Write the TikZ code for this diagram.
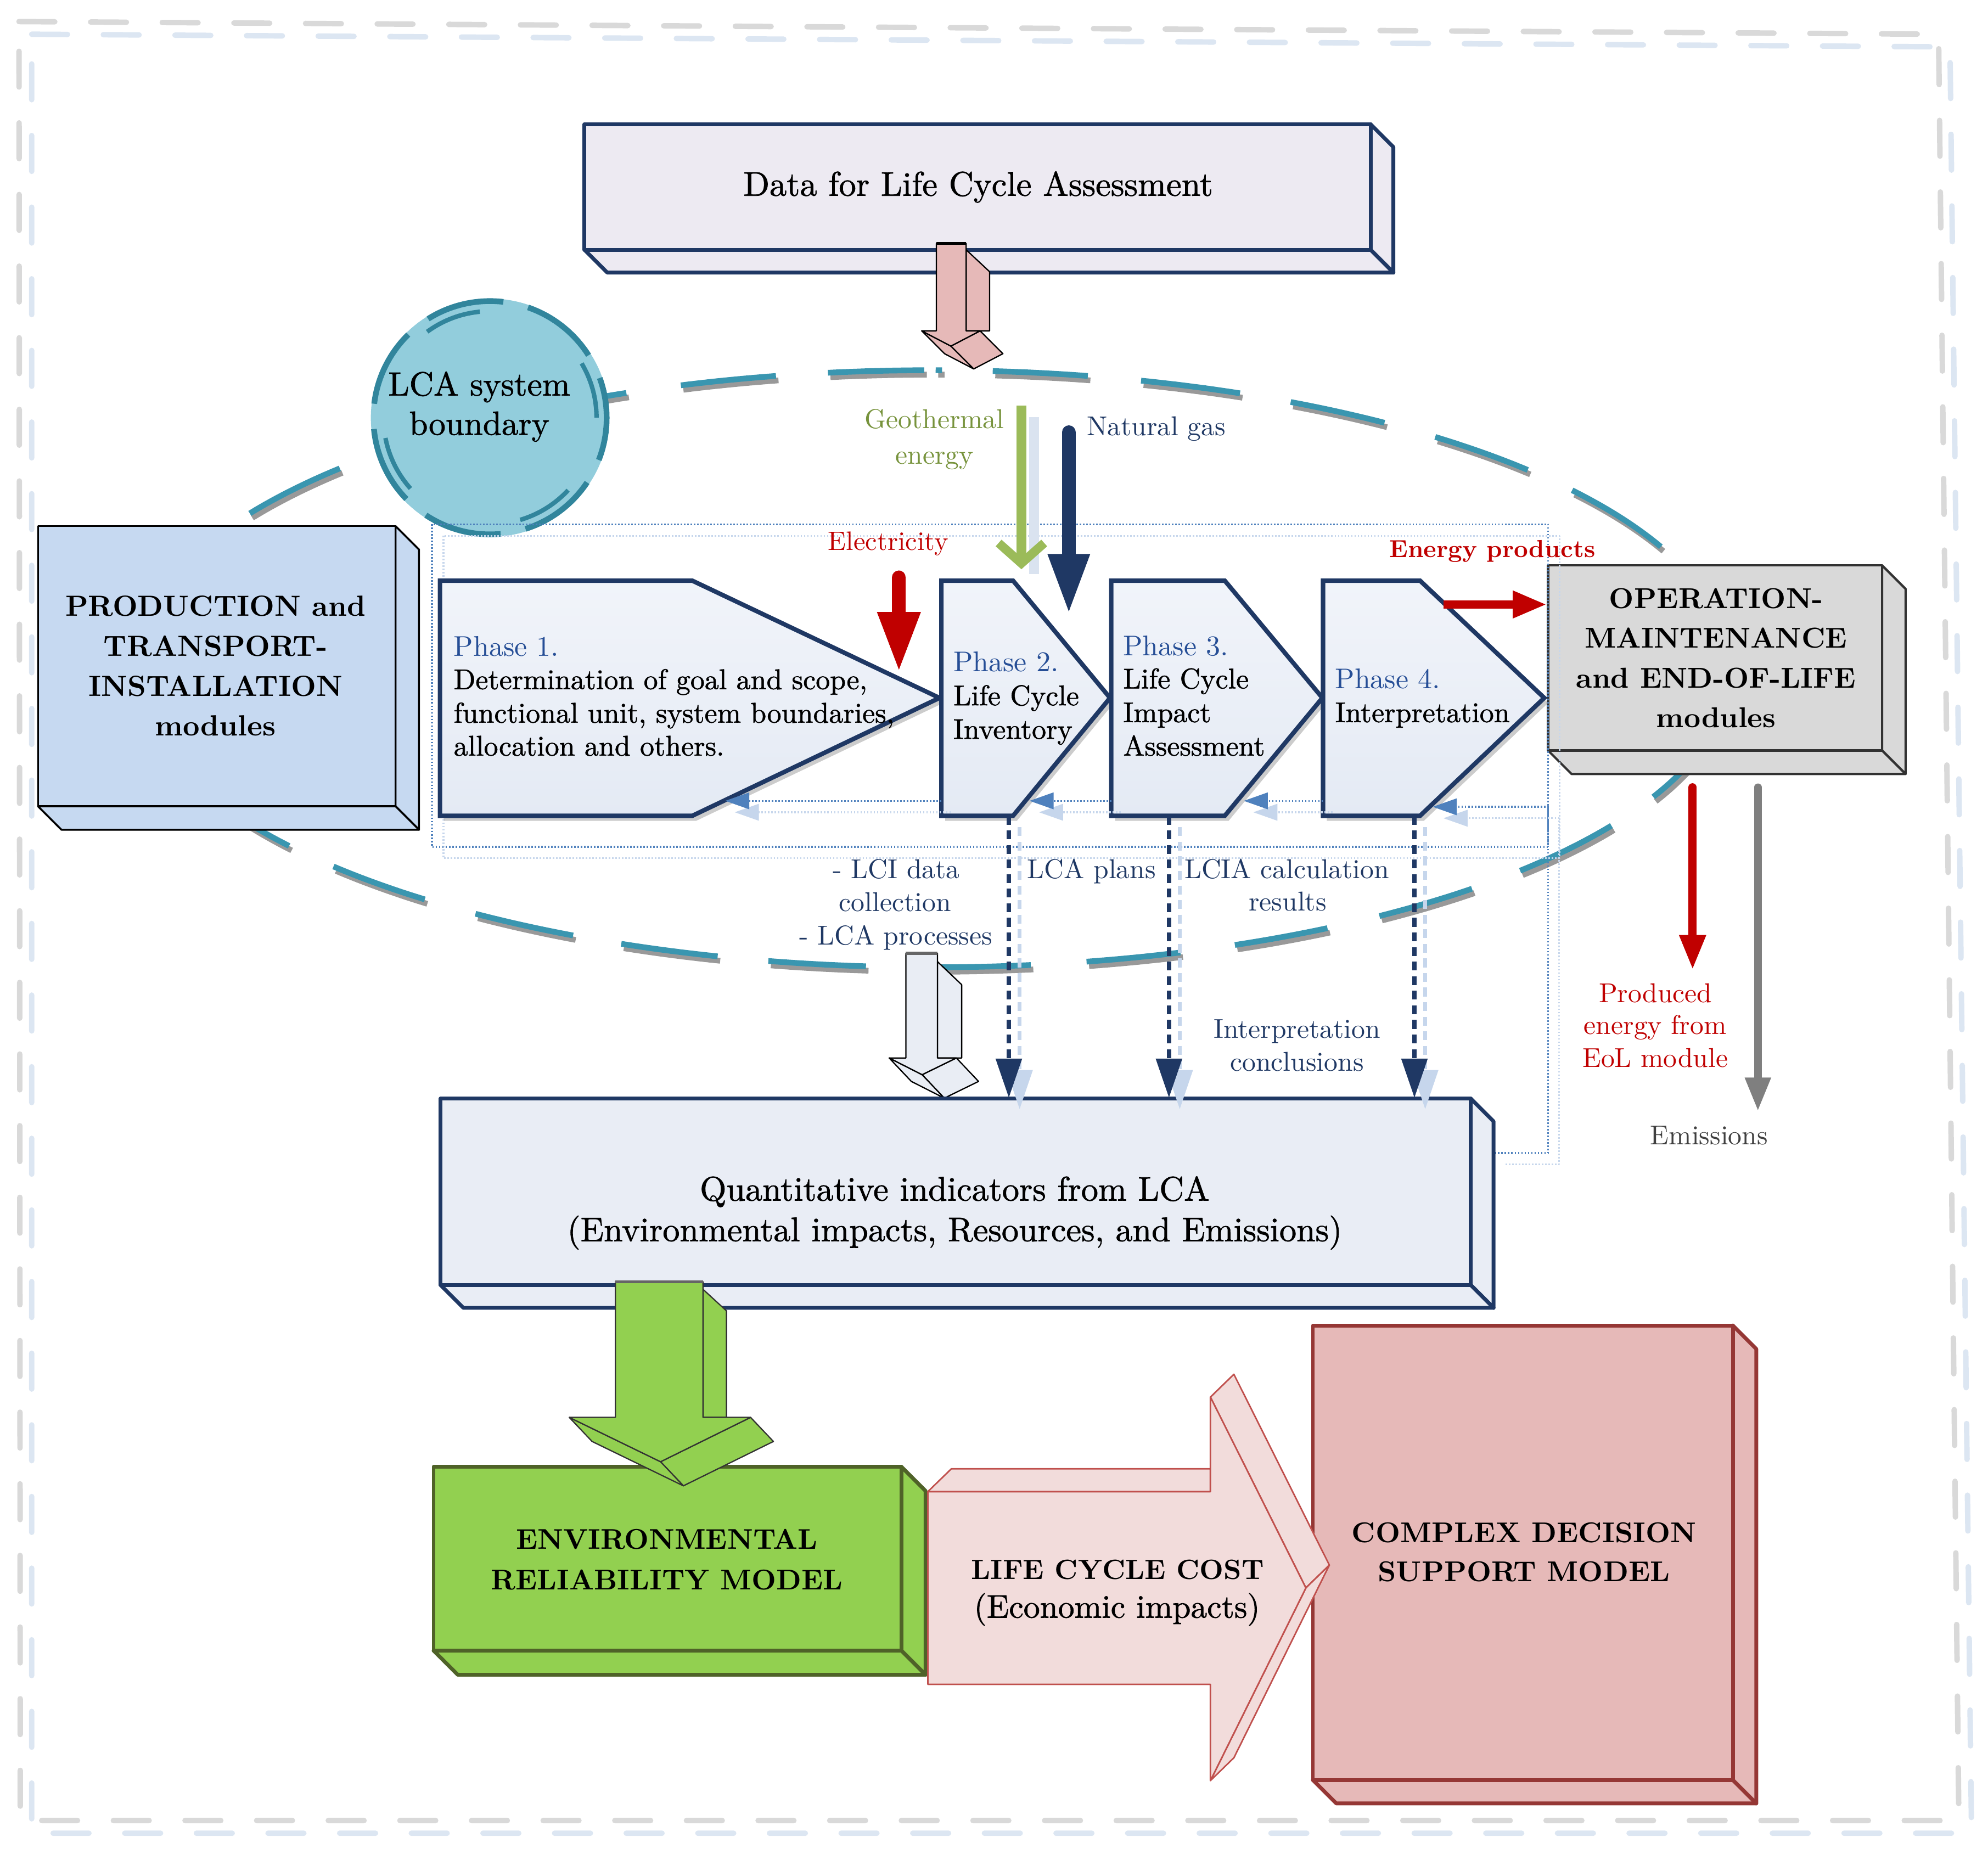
\documentclass[tikz,border=0pt]{standalone}
\usepackage{fontspec}
\setmainfont{lmroman10-regular.otf}[BoldFont=lmroman10-bold.otf,ItalicFont=lmroman10-italic.otf,BoldItalicFont=lmroman10-bolditalic.otf]
\newfontfamily\medfont{lmroman10-regular.otf}[FakeBold=1.2]
\usetikzlibrary{arrows.meta,shadows}
\definecolor{dblue}{RGB}{31,56,100}
\definecolor{phblue}{RGB}{38,78,150}
\definecolor{fbblue}{RGB}{79,129,189}
\definecolor{ltshadow}{RGB}{198,214,236}
\definecolor{lred}{RGB}{192,0,0}
\definecolor{geoarrow}{RGB}{155,187,89}
\definecolor{geotext}{RGB}{119,147,60}
\definecolor{teal1}{RGB}{58,150,176}
\definecolor{circfill}{RGB}{146,205,220}
\definecolor{circline}{RGB}{49,133,156}
\definecolor{datafill}{RGB}{237,234,242}
\definecolor{quantfill}{RGB}{233,237,245}
\definecolor{prodfill}{RGB}{198,217,241}
\definecolor{opfill}{RGB}{217,217,217}
\definecolor{opline}{RGB}{50,50,50}
\definecolor{envfill}{RGB}{146,208,80}
\definecolor{envline}{RGB}{79,98,40}
\definecolor{cxfill}{RGB}{230,185,184}
\definecolor{cxline}{RGB}{149,55,53}
\definecolor{lccfill}{RGB}{242,220,219}
\definecolor{lccline}{RGB}{192,80,77}
\definecolor{pinkfill}{RGB}{230,185,184}
\definecolor{whitefill}{RGB}{233,237,244}
\definecolor{phtop}{RGB}{241,244,250}
\definecolor{phbot}{RGB}{228,234,244}
\definecolor{framegray}{RGB}{217,217,217}
\definecolor{frameblue}{RGB}{220,230,242}
\definecolor{emgray}{RGB}{127,127,127}
\definecolor{emtext}{RGB}{64,64,64}
\definecolor{geoshadow}{RGB}{218,227,240}
\newcommand\fsz[2]{\fontsize{#1}{#2}\selectfont}
\newcommand\etop[2]{%
  \pgfmathsetmacro\aA{-acos((#1-735)/630)}%
  \pgfmathsetmacro\aB{-acos((#2-735)/630)}%
  \draw[elsh] plot[domain=\aA:\aB,samples=12,smooth] ({737+630*cos(\x)},{531+235.5*sin(\x)});%
  \draw[elln] plot[domain=\aA:\aB,samples=12,smooth] ({735+630*cos(\x)},{527.5+235.5*sin(\x)});}
\newcommand\ebot[2]{%
  \pgfmathsetmacro\aA{acos((#2-735)/630)}%
  \pgfmathsetmacro\aB{acos((#1-735)/630)}%
  \draw[elsh] plot[domain=\aA:\aB,samples=12,smooth] ({737+630*cos(\x)},{531+235.5*sin(\x)});%
  \draw[elln] plot[domain=\aA:\aB,samples=12,smooth] ({735+630*cos(\x)},{527.5+235.5*sin(\x)});}
\newcommand\cubefaces[6]{%
  \filldraw[#6] (#3,#2) -- (#3+#5,#2+#5) -- (#3+#5,#4+#5) -- (#3,#4) -- cycle;
  \filldraw[#6] (#1,#4) -- (#3,#4) -- (#3+#5,#4+#5) -- (#1+#5,#4+#5) -- cycle;}
\begin{document}
\begin{tikzpicture}[x=1pt,y=-1pt,line join=round,
  lbl/.style={inner sep=0pt,anchor=base},
  lbw/.style={inner sep=0pt,anchor=base west},
  phase/.style={draw=dblue,line width=3.5pt,line join=miter,top color=phtop,bottom color=phbot,
     drop shadow={shadow xshift=3pt,shadow yshift=-4pt,opacity=.4,fill=black!50}},
  elln/.style={draw=teal1,line width=4.5pt},
  elsh/.style={draw=black!40,line width=4.5pt},
  framel/.style={line width=4.3pt,line cap=round,dash pattern=on 28.2pt off 28.3pt},
  dotd/.style={draw=fbblue,line width=1.4pt,dash pattern=on 1.2pt off 1.4pt},
  dotl/.style={draw=ltshadow,line width=1.4pt,dash pattern=on 1.2pt off 1.4pt},
  fbtip/.style={-{Triangle[length=19pt,width=13pt]}},
  vdash/.style={draw=dblue,line width=3.6pt,dash pattern=on 7pt off 4.5pt,-{Triangle[length=31pt,width=20pt]}},
  vdashl/.style={draw=ltshadow,line width=3.2pt,dash pattern=on 7pt off 4.5pt,-{Triangle[length=31pt,width=20pt]}},
  boxnode/.style={rectangle,inner sep=0pt},
]
\useasboundingbox (0,0) rectangle (1568,1458.4);
\fill[white] (0,0) rectangle (1568,1458.4);

% outer frame
\draw[framel,draw=framegray] (15,17) -- (1529,27) -- (1545,1436) -- (16,1436) -- cycle;
\draw[framel,draw=frameblue] (25,27) -- (1538,37) -- (1555,1446) -- (25,1446) -- cycle;

% LCA system boundary ellipse (dashed)
\etop{197}{268}
\etop{425}{494}
\etop{537}{612}
\etop{653}{729}
\etop{738}{743}
\etop{783}{858}
\etop{900}{978}
\etop{1018}{1092}
\etop{1132}{1205}
\etop{1240}{1310}
\ebot{160}{228}
\ebot{263}{335}
\ebot{375}{452}
\ebot{490}{566}
\ebot{606}{683}
\ebot{735}{813}
\ebot{857}{931}
\ebot{974}{1047}
\ebot{1088}{1161}
\ebot{1199}{1271}
\ebot{1304}{1352}

% LCA system boundary circle
\node[circle,fill=circfill,minimum size=188pt,inner sep=0pt] (lcab) at (386.5,329.5) {};
\draw[circline,line width=4.5pt,dash pattern=on 62pt off 20pt,dash phase=30pt] (386.5,329.5) circle[radius=92pt];
\draw[circline,line width=3.5pt,dash pattern=on 45pt off 95pt,dash phase=0pt] (386.5,329.5) circle[radius=84pt];

% Data box
\cubefaces{461}{98}{1081}{197}{18}{fill=datafill,draw=dblue,line width=3pt}
\node[boxnode,draw=dblue,line width=3pt,fill=datafill,minimum width=620pt,minimum height=99pt] (databox) at (771,147.5) {};

% pink 3D arrow
\filldraw[fill=pinkfill,draw=black,line width=1pt] (773,261) -- (750,273) -- (768,291) -- (791,279) -- cycle;
\filldraw[fill=pinkfill,draw=black,line width=1pt] (750,273) -- (727,261) -- (745,279) -- (768,291) -- cycle;
\filldraw[fill=pinkfill,draw=black,line width=1pt] (762,197) -- (780.5,214.3) -- (780.5,261) -- (762,261) -- cycle;
\filldraw[fill=pinkfill,draw=black,line width=1pt] (738.5,192) -- (762,192) -- (762,261) -- (773,261) -- (750,273) -- (727,261) -- (738.5,261) -- cycle;
\draw[black,line width=2pt] (738.5,192) -- (762,192);

% Production box
\cubefaces{30}{415}{312}{636}{18.5}{fill=prodfill,draw=black,line width=1.5pt}
\node[boxnode,draw=black,line width=1.5pt,fill=prodfill,minimum width=282pt,minimum height=221pt] (prodbox) at (171,525.5) {};

% Operation box
\cubefaces{1221}{446}{1484.5}{592}{18.5}{fill=opfill,draw=opline,line width=1.8pt}
\node[boxnode,draw=opline,line width=1.8pt,fill=opfill,minimum width=263.5pt,minimum height=146pt] (opbox) at (1352.75,519) {};

% dotted frame round the phases
\draw[dotl] (349.8,422.6) rectangle (1230,677);
\draw[dotd] (340.7,413.5) rectangle (1221,668);

% phases
\path[phase] (347,458) -- (546,458) -- (741,550.5) -- (546,643.5) -- (347,643.5) -- cycle;
\path[phase] (742.5,458) -- (799,458) -- (875.5,550.5) -- (799,643.5) -- (742.5,643.5) -- cycle;
\path[phase] (876.5,458) -- (966,458) -- (1043,550.5) -- (966,643.5) -- (876.5,643.5) -- cycle;
\path[phase] (1043.5,458) -- (1120,458) -- (1218,550.5) -- (1120,643.5) -- (1043.5,643.5) -- cycle;

% named end points
\coordinate (p1e) at (572,631.7);
\coordinate (p2l) at (742.5,631.7);
\coordinate (p2e) at (812,631.7);
\coordinate (p3l) at (876.5,631.7);
\coordinate (p3e) at (981,631.7);
\coordinate (p4l) at (1043.5,631.7);
\coordinate (p4e) at (1130,636.4);
\coordinate (fbc1) at (1221,636.4);
\coordinate (fbc2) at (1221,909.5);
\coordinate (qr) at (1179,909.5);
\coordinate (p2b) at (795.7,643.5);
\coordinate (p3b) at (922,643.5);
\coordinate (p4b) at (1115.6,643.5);
\coordinate (q2) at (795.7,866);
\coordinate (q3) at (922,866);
\coordinate (q4) at (1115.6,866);

% feedback dotted arrows (shadow copies first)
\draw[dotl,fbtip] (750,640.7) -- (579.5,640.7);
\draw[dotl,fbtip] (884,640.7) -- (819.5,640.7);
\draw[dotl,fbtip] (1051,640.7) -- (988.5,640.7);
\draw[dotl,fbtip] (1187.5,918.5) -- (1229.5,918.5) -- (1229.5,645.4) -- (1138.5,645.4);
\draw[dotd,fbtip] (p2l) -- (p1e);
\draw[dotd,fbtip] (p3l) -- (p2e);
\draw[dotd,fbtip] (p4l) -- (p3e);
\draw[dotd,fbtip] (qr) -- (fbc2) -- (fbc1) -- (p4e);

% input arrows
\draw[geoshadow,line width=8pt] (815.5,329) -- (815.5,453);
\draw[geoarrow,line width=8pt,-{Straight Barb[length=16pt,width=36pt,line width=7pt]}] (805.6,320) -- (805.6,449);
\draw[dblue,line width=11pt,line cap=round,-{Triangle[length=48pt,width=30pt]}] (843,341) -- (843,485);
\draw[lred,line width=11pt,line cap=round,-{Triangle[length=48pt,width=31pt]}] (709,455.5) -- (709,530.7);
\draw[lred,line width=6.6pt,-{Triangle[length=27pt,width=20pt]}] (1138.5,476.8) -- (opbox.west |- 0,476.8);

% white 3D arrow
\filldraw[fill=whitefill,draw=black,line width=1pt] (754.3,834.5) -- (727.3,847.7) -- (744.8,866.2) -- (771.8,853) -- cycle;
\filldraw[fill=whitefill,draw=black,line width=1pt] (727.3,847.7) -- (701.3,834.5) -- (718.8,853) -- (744.8,866.2) -- cycle;
\filldraw[fill=whitefill,draw=black,line width=1pt] (739.4,758.5) -- (758.5,776.7) -- (758.5,834.5) -- (739.4,834.5) -- cycle;
\filldraw[fill=whitefill,draw=black,line width=1pt] (714.5,752) -- (739.4,752) -- (739.4,834.5) -- (754.3,834.5) -- (727.3,847.7) -- (701.3,834.5) -- (714.5,834.5) -- cycle;
\draw[black!60,line width=2.5pt] (714.5,752) -- (739.4,752);

% Quantitative box
\cubefaces{347.5}{866.5}{1160}{1013.6}{18}{fill=quantfill,draw=dblue,line width=3pt}
\node[boxnode,draw=dblue,line width=3pt,fill=quantfill,minimum width=812.5pt,minimum height=147.1pt] (qbox) at (753.75,940.05) {};

% dashed arrows from phases to the box
\draw[vdashl] (804.2,652.5) -- (804.2,875);
\draw[vdashl] (930.5,652.5) -- (930.5,875);
\draw[vdashl] (1124.1,652.5) -- (1124.1,875);
\draw[vdash] (p2b) -- (q2);
\draw[vdash] (p3b) -- (q3);
\draw[vdash] (p4b) -- (q4);

% Environmental box
\cubefaces{342}{1157}{711}{1302}{19}{fill=envfill,draw=envline,line width=3pt}
\node[boxnode,draw=envline,line width=3pt,fill=envfill,minimum width=369pt,minimum height=145pt] (envbox) at (526.5,1229.5) {};

% green 3D arrow
\filldraw[fill=envfill,draw=black!80,line width=1pt] (592,1118) -- (521,1153) -- (539,1172) -- (610,1137) -- cycle;
\filldraw[fill=envfill,draw=black!80,line width=1pt] (521,1153) -- (449,1118) -- (467,1137) -- (539,1172) -- cycle;
\filldraw[fill=envfill,draw=black!80,line width=1pt] (554.5,1017) -- (573,1034) -- (573,1118) -- (554.5,1118) -- cycle;
\filldraw[fill=envfill,draw=black!80,line width=1pt] (485.4,1011) -- (554.5,1011) -- (554.5,1118) -- (592,1118) -- (521,1153) -- (449,1118) -- (485.4,1118) -- cycle;
\draw[black!60,line width=2.5pt] (485.4,1011) -- (554.5,1011);

% Complex decision box
\cubefaces{1035.5}{1045.5}{1366.7}{1404}{18.5}{fill=cxfill,draw=cxline,line width=3pt}
\node[boxnode,draw=cxline,line width=3pt,fill=cxfill,minimum width=331.2pt,minimum height=358.5pt] (cxbox) at (1201.1,1224.75) {};

% Life cycle cost 3D arrow
\filldraw[fill=lccfill,draw=lccline,line width=1.2pt] (954.7,1102) -- (1030,1252.5) -- (1048.5,1234.5) -- (973.2,1084) -- cycle;
\filldraw[fill=lccfill,draw=lccline,line width=1.2pt] (1030,1252.5) -- (954.7,1404.5) -- (973.2,1386.5) -- (1048.5,1234.5) -- cycle;
\filldraw[fill=lccfill,draw=lccline,line width=1.2pt] (731.8,1176.6) -- (750.3,1158.6) -- (954.7,1158.6) -- (954.7,1176.6) -- cycle;
\filldraw[fill=lccfill,draw=lccline,line width=1.2pt] (731.8,1176.6) -- (954.7,1176.6) -- (954.7,1102) -- (1030,1252.5) -- (954.7,1404.5) -- (954.7,1328.6) -- (731.8,1328.6) -- cycle;

% output arrows
\coordinate (oprod) at (1335,621);
\coordinate (oprodend) at (1335,765);
\coordinate (oem) at (1386.5,621);
\coordinate (oemend) at (1386.5,876.6);
\draw[lred,line width=6.4pt,line cap=round,-{Triangle[length=27.5pt,width=19.5pt]}] (oprod) -- (oprodend);
\draw[emgray,line width=6pt,line cap=round,-{Triangle[length=26.6pt,width=19pt]}] (oem) -- (oemend);

% ---------- texts ----------
\node[lbl,font={\medfont\fsz{27}{32}}] (tdata) at (771.5,154.4) {Data for Life Cycle Assessment};
\node[lbl,font={\medfont\fsz{26.5}{32}}] (tlca1) at (378,312) {LCA system};
\node[lbl,font={\medfont\fsz{26.5}{32}}] (tlca2) at (378,343) {boundary};
\node[lbl,font={\fsz{21.5}{26}},text=geotext] (tgeo1) at (737,338) {Geothermal};
\node[lbl,font={\fsz{21.5}{26}},text=geotext] (tgeo2) at (737,366) {energy};
\node[lbw,font={\fsz{21.5}{26}},text=dblue] (tgas) at (857,343.4) {Natural gas};
\node[lbl,font={\fsz{21}{26}},text=lred] (telec) at (700.5,434) {Electricity};
\node[lbl,font={\bfseries\fsz{19.4}{24}},text=lred] (tep) at (1177,439.5) {Energy products};

\node[lbl,font={\bfseries\fsz{23}{28}}] (tpr1) at (170,486) {PRODUCTION and};
\node[lbl,font={\bfseries\fsz{23}{28}}] (tpr2) at (170,517.5) {TRANSPORT-};
\node[lbl,font={\bfseries\fsz{23}{28}}] (tpr3) at (170,549) {INSTALLATION};
\node[lbl,font={\bfseries\fsz{23}{28}}] (tpr4) at (170,580.5) {modules};

\node[lbl,font={\bfseries\fsz{22.7}{28}}] (top1) at (1353.5,480) {OPERATION-};
\node[lbl,font={\bfseries\fsz{22.7}{28}}] (top2) at (1353.5,511) {MAINTENANCE};
\node[lbl,font={\bfseries\fsz{22.7}{28}}] (top3) at (1353.5,542.7) {and END-OF-LIFE};
\node[lbl,font={\bfseries\fsz{22.7}{28}}] (top4) at (1353.5,574) {modules};

\node[lbw,font={\fsz{22.5}{26}},text=phblue] (ph1a) at (357.7,517.7) {Phase 1.};
\node[lbw,font={\medfont\fsz{22.5}{26}}] (ph1b) at (357.7,543.6) {Determination of goal and scope,};
\node[lbw,font={\medfont\fsz{22.5}{26}}] (ph1c) at (357.7,570) {functional unit, system boundaries,};
\node[lbw,font={\medfont\fsz{22.5}{26}}] (ph1d) at (357.7,596) {allocation and others.};
\node[lbw,font={\fsz{22.5}{26}},text=phblue] (ph2a) at (751.8,529.8) {Phase 2.};
\node[lbw,font={\medfont\fsz{22.5}{26}}] (ph2b) at (751.8,556.3) {Life Cycle};
\node[lbw,font={\medfont\fsz{22.5}{26}}] (ph2c) at (751.8,582.8) {Inventory};
\node[lbw,font={\fsz{22.5}{26}},text=phblue] (ph3a) at (885.7,517.3) {Phase 3.};
\node[lbw,font={\medfont\fsz{22.5}{26}}] (ph3b) at (885.7,543) {Life Cycle};
\node[lbw,font={\medfont\fsz{22.5}{26}}] (ph3c) at (885.7,569.6) {Impact};
\node[lbw,font={\medfont\fsz{22.5}{26}}] (ph3d) at (885.7,596) {Assessment};
\node[lbw,font={\fsz{22.5}{26}},text=phblue] (ph4a) at (1052.9,543) {Phase 4.};
\node[lbw,font={\medfont\fsz{22.5}{26}}] (ph4b) at (1052.9,569.6) {Interpretation};

\node[lbl,font={\fsz{21.5}{26}},text=dblue] (tlci1) at (707,693) {- LCI data};
\node[lbl,font={\fsz{21.5}{26}},text=dblue] (tlci2) at (706,718.8) {collection};
\node[lbl,font={\fsz{21.5}{26}},text=dblue] (tlci3) at (706.5,745.3) {- LCA processes};
\node[lbl,font={\fsz{21.5}{26}},text=dblue] (tplans) at (861,693) {LCA plans};
\node[lbl,font={\fsz{21.5}{26}},text=dblue] (tlcia1) at (1015,693) {LCIA calculation};
\node[lbl,font={\fsz{21.5}{26}},text=dblue] (tlcia2) at (1015.6,718.5) {results};
\node[lbl,font={\fsz{21.5}{26}},text=dblue] (tint1) at (1023,819) {Interpretation};
\node[lbl,font={\fsz{21.5}{26}},text=dblue] (tint2) at (1023,844.7) {conclusions};
\node[lbl,font={\fsz{21.5}{26}},text=lred] (tpe1) at (1305.8,790.6) {Produced};
\node[lbl,font={\fsz{21.5}{26}},text=lred] (tpe2) at (1305.5,816) {energy from};
\node[lbl,font={\fsz{21.5}{26}},text=lred] (tpe3) at (1305.5,841.8) {EoL module};
\node[lbl,font={\fsz{21.5}{26}},text=emtext] (tem) at (1348,903) {Emissions};

\node[lbl,font={\medfont\fsz{26.9}{32}}] (tq1) at (753,947) {Quantitative indicators from LCA};
\node[lbl,font={\medfont\fsz{26.9}{32}}] (tq2) at (753,979) {(Environmental impacts, Resources, and Emissions)};

\node[lbl,font={\bfseries\fsz{22.5}{28}}] (tenv1) at (526,1222) {ENVIRONMENTAL};
\node[lbl,font={\bfseries\fsz{22.5}{28}}] (tenv2) at (526,1254) {RELIABILITY MODEL};
\node[lbl,font={\bfseries\fsz{22}{28}}] (tlcc1) at (881.5,1245.5) {LIFE CYCLE COST};
\node[lbl,font={\medfont\fsz{25.8}{30}}] (tlcc2) at (881,1276) {(Economic impacts)};
\node[lbl,font={\bfseries\fsz{22.6}{28}}] (tcx1) at (1202,1216.6) {COMPLEX DECISION};
\node[lbl,font={\bfseries\fsz{22.6}{28}}] (tcx2) at (1202,1247.6) {SUPPORT MODEL};
\end{tikzpicture}
\end{document}
